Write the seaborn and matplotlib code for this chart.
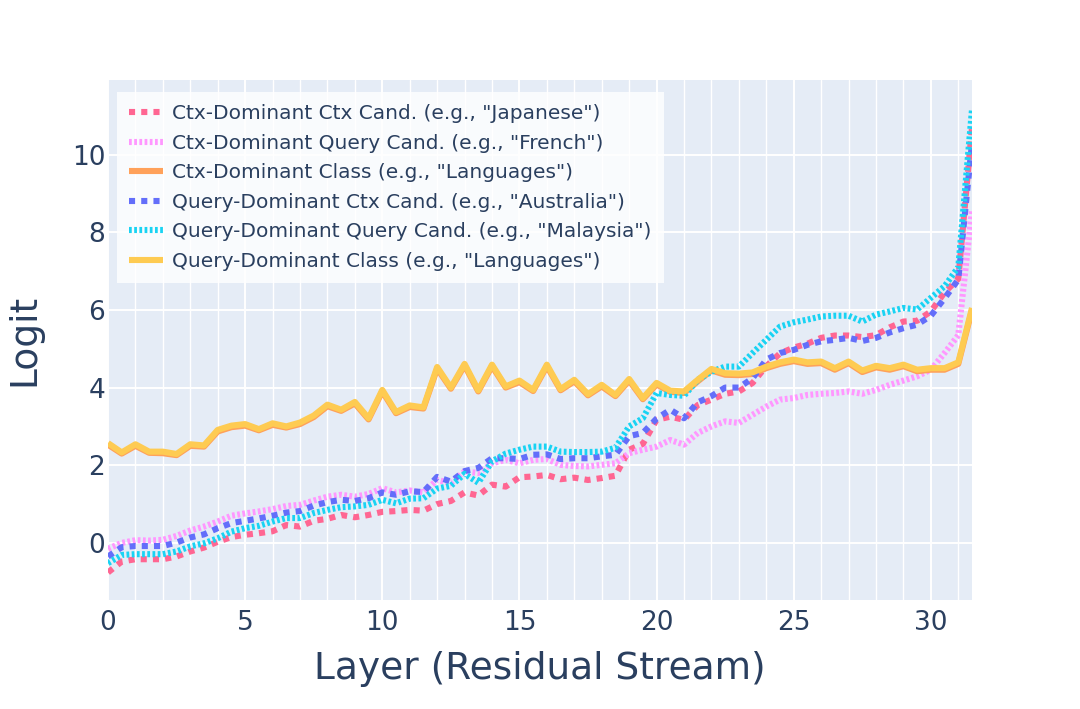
import numpy as np
import pandas as pd
import matplotlib
matplotlib.use("Agg")
import matplotlib.pyplot as plt
import seaborn as sns

layers = [i * 0.5 for i in range(64)]

ctx_ctx_cand = [-0.76, -0.48, -0.42, -0.42, -0.42, -0.35, -0.22, -0.12, 0.03, 0.15,
                0.21, 0.25, 0.30, 0.46, 0.42, 0.57, 0.62, 0.72, 0.66, 0.72,
                0.80, 0.82, 0.85, 0.83, 1.00, 1.08, 1.30, 1.22, 1.50, 1.45,
                1.69, 1.71, 1.75, 1.64, 1.68, 1.62, 1.67, 1.73, 2.40, 2.55,
                3.17, 3.25, 3.17, 3.55, 3.69, 3.84, 3.90, 4.12, 4.55, 4.88,
                5.03, 5.13, 5.28, 5.34, 5.34, 5.30, 5.35, 5.55, 5.70, 5.72,
                5.96, 6.45, 6.80, 10.70]
ctx_query_cand = [-0.15, 0.00, 0.07, 0.06, 0.08, 0.18, 0.32, 0.42, 0.55, 0.70,
                  0.76, 0.81, 0.87, 0.95, 0.98, 1.09, 1.19, 1.24, 1.19, 1.26,
                  1.41, 1.30, 1.35, 1.30, 1.62, 1.54, 1.84, 1.80, 2.05, 2.14,
                  2.05, 2.14, 2.16, 2.01, 1.98, 1.97, 2.01, 2.05, 2.31, 2.40,
                  2.48, 2.65, 2.53, 2.83, 3.00, 3.13, 3.09, 3.30, 3.51, 3.69,
                  3.73, 3.81, 3.84, 3.86, 3.90, 3.84, 3.94, 4.07, 4.18, 4.29,
                  4.46, 4.89, 5.35, 8.58]
ctx_class = [2.53, 2.30, 2.50, 2.32, 2.31, 2.26, 2.50, 2.48, 2.87, 2.98,
             3.02, 2.90, 3.04, 2.97, 3.06, 3.24, 3.52, 3.40, 3.59, 3.18,
             3.90, 3.34, 3.50, 3.46, 4.49, 3.97, 4.57, 3.90, 4.55, 4.00,
             4.14, 3.91, 4.55, 3.93, 4.16, 3.80, 4.03, 3.78, 4.18, 3.70,
             4.08, 3.89, 3.86, 4.16, 4.44, 4.33, 4.32, 4.35, 4.50, 4.61,
             4.68, 4.61, 4.63, 4.46, 4.63, 4.40, 4.52, 4.46, 4.55, 4.42,
             4.46, 4.46, 4.61, 6.00]
query_ctx_cand = [-0.35, -0.11, -0.08, -0.08, -0.08, 0.01, 0.14, 0.22, 0.38, 0.51,
                  0.57, 0.63, 0.70, 0.78, 0.82, 0.96, 1.05, 1.11, 1.08, 1.15,
                  1.30, 1.24, 1.33, 1.31, 1.70, 1.58, 1.85, 1.93, 2.18, 2.18,
                  2.16, 2.27, 2.28, 2.16, 2.18, 2.18, 2.23, 2.27, 2.75, 2.83,
                  3.20, 3.43, 3.21, 3.62, 3.78, 4.00, 4.00, 4.24, 4.72, 4.89,
                  4.97, 5.10, 5.19, 5.23, 5.28, 5.20, 5.28, 5.42, 5.53, 5.62,
                  5.85, 6.30, 6.78, 10.30]
query_query_cand = [-0.52, -0.31, -0.29, -0.29, -0.29, -0.22, -0.09, -0.01, 0.12, 0.29,
                    0.38, 0.44, 0.55, 0.64, 0.64, 0.77, 0.85, 0.92, 0.94, 0.98,
                    1.11, 1.02, 1.14, 1.15, 1.40, 1.47, 1.78, 1.55, 2.10, 2.30,
                    2.40, 2.48, 2.48, 2.35, 2.34, 2.34, 2.35, 2.45, 3.00, 3.21,
                    3.86, 3.81, 3.79, 4.20, 4.41, 4.54, 4.54, 4.89, 5.23, 5.57,
                    5.68, 5.75, 5.83, 5.85, 5.85, 5.70, 5.88, 5.96, 6.05, 6.01,
                    6.31, 6.61, 7.10, 11.16]
query_class = [2.57, 2.33, 2.54, 2.35, 2.35, 2.29, 2.54, 2.51, 2.91, 3.02,
               3.06, 2.93, 3.08, 3.00, 3.10, 3.28, 3.56, 3.43, 3.63, 3.21,
               3.94, 3.37, 3.54, 3.49, 4.53, 4.00, 4.61, 3.93, 4.59, 4.03,
               4.18, 3.94, 4.59, 3.96, 4.20, 3.83, 4.07, 3.81, 4.22, 3.73,
               4.12, 3.92, 3.90, 4.20, 4.48, 4.37, 4.36, 4.39, 4.54, 4.65,
               4.72, 4.65, 4.67, 4.50, 4.67, 4.44, 4.56, 4.50, 4.59, 4.46,
               4.50, 4.50, 4.65, 6.05]

series_names = [
    'Ctx-Dominant Ctx Cand. (e.g., "Japanese")',
    'Ctx-Dominant Query Cand. (e.g., "French")',
    'Ctx-Dominant Class (e.g., "Languages")',
    'Query-Dominant Ctx Cand. (e.g., "Australia")',
    'Query-Dominant Query Cand. (e.g., "Malaysia")',
    'Query-Dominant Class (e.g., "Languages")',
]
series_values = [ctx_ctx_cand, ctx_query_cand, ctx_class,
                 query_ctx_cand, query_query_cand, query_class]
colors = ["#FF6692", "#FF97FF", "#FFA15A", "#636EFA", "#19D3F3", "#FECB52"]
styles = ["square", "fine", "solid", "square", "fine", "solid"]

x_ticks = [0, 5, 10, 15, 20, 25, 30]
y_ticks = [0, 2, 4, 6, 8, 10]

TXT = "#2a3f5f"
sns.set_theme(style="darkgrid")
plt.rcParams["font.family"] = ["DejaVu Sans"]

fig = plt.figure(figsize=(10.8, 7.09), dpi=100)
ax = fig.add_axes([108 / 1080, 1 - 600 / 709, (972 - 108) / 1080, (600 - 80) / 709])
ax.set_facecolor("#E5ECF6")

for name, vals, col, st in zip(series_names, series_values, colors, styles):
    df = pd.DataFrame({"layer": layers, "logit": vals})
    if st == "square":
        kw = dict(linewidth=4.4, linestyle=(0, (1.0, 1.0)), dash_capstyle="butt")
    elif st == "fine":
        kw = dict(linewidth=4.4, linestyle=(0, (0.45, 0.4)), dash_capstyle="butt")
    else:
        kw = dict(linewidth=4.4, linestyle="-", solid_capstyle="butt")
    sns.lineplot(data=df, x="layer", y="logit", ax=ax, color=col, label=name,
                 solid_joinstyle="round", **kw)

ax.set_xlim(0, 31.5)
ax.set_ylim(-1.47, 11.92)
ax.set_xticks(x_ticks)
ax.set_yticks(y_ticks)
ax.set_xticks(np.arange(0, 32, 1), minor=True)
ax.grid(which="major", color="white", linewidth=1.4)
ax.grid(which="minor", axis="x", color="white", linewidth=1.0)
ax.grid(which="minor", axis="y", visible=False)
for s in ax.spines.values():
    s.set_visible(False)
ax.tick_params(axis="both", which="both", length=0, labelsize=19, colors=TXT)
ax.tick_params(axis="x", pad=7)
ax.tick_params(axis="y", pad=2)
ax.set_xlabel("Layer (Residual Stream)", fontsize=27, color=TXT, labelpad=11)
ax.set_ylabel("Logit", fontsize=27, color=TXT, labelpad=21)

leg = ax.legend(loc="upper left", bbox_to_anchor=(0.0104, 0.977), fontsize=14.5,
                frameon=True, fancybox=False, handlelength=1.65, handletextpad=0.46,
                labelspacing=0.52, borderpad=0.62, borderaxespad=0.0)
leg.get_frame().set_facecolor((1, 1, 1, 0.72))
leg.get_frame().set_edgecolor("none")
for t in leg.get_texts():
    t.set_color(TXT)

fig.savefig("out.png", dpi=100)
